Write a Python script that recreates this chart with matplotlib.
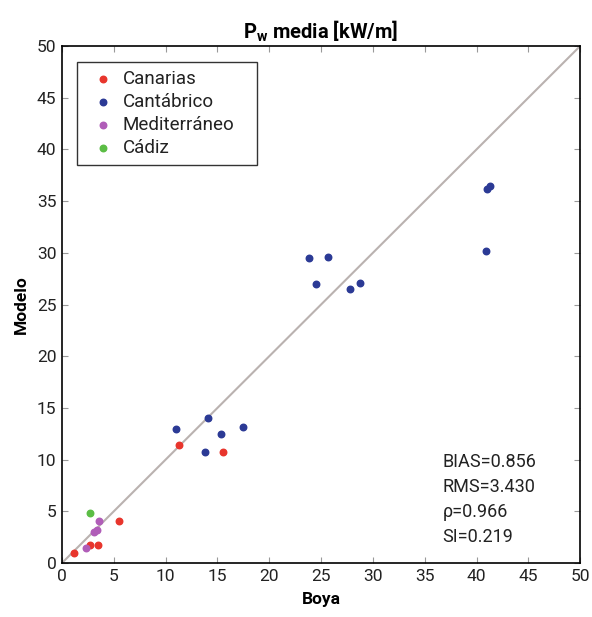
import matplotlib
matplotlib.use("Agg")
import matplotlib.pyplot as plt

plt.rcParams['font.family'] = ['Roboto', 'DejaVu Sans']

# valores (Boya, Modelo)
canarias_x = [1.2, 2.7, 3.5, 5.5, 11.3, 15.5]
canarias_y = [0.95, 1.7, 1.7, 4.1, 11.4, 10.7]

cantabrico_x = [11.0, 14.1, 15.3, 17.5, 13.8, 23.8, 25.7, 24.5, 27.8, 28.8, 40.9, 41.0, 41.3]
cantabrico_y = [13.0, 14.0, 12.5, 13.2, 10.7, 29.5, 29.6, 27.0, 26.5, 27.1, 30.2, 36.2, 36.5]

mediterraneo_x = [2.3, 3.1, 3.4, 3.6]
mediterraneo_y = [1.5, 3.0, 3.2, 4.1]

cadiz_x = [2.7]
cadiz_y = [4.8]

stats = ["BIAS=0.856", "RMS=3.430", "\u03c1=0.966", "SI=0.219"]
ticks = [0, 5, 10, 15, 20, 25, 30, 35, 40, 45, 50]

fig = plt.figure(figsize=(5.92, 6.17), dpi=100)
ax = fig.add_axes([0.1047, 0.0875, 0.8753, 0.8379])

ax.plot([0, 50], [0, 50], color='#bab2b0', lw=1.5, zorder=1)

ax.scatter(canarias_x, canarias_y, s=22, color='#e8352c', label='Canarias', zorder=3)
ax.scatter(cantabrico_x, cantabrico_y, s=22, color='#2b3a95', label='Cantábrico', zorder=3)
ax.scatter(mediterraneo_x, mediterraneo_y, s=22, color='#b05db8', label='Mediterráneo', zorder=3)
ax.scatter(cadiz_x, cadiz_y, s=22, color='#5bbd45', label='Cádiz', zorder=3)

ax.set_xlim(0, 50)
ax.set_ylim(0, 50)
ax.set_xticks(ticks)
ax.set_yticks(ticks)
ax.tick_params(direction='in', top=True, right=True, labelsize=12.5, length=4,
               color='#999999', labelcolor='#222222', pad=4)
for s in ax.spines.values():
    s.set_linewidth(1.2)

ax.set_xlabel('Boya', fontsize=12.5, fontweight='bold', labelpad=6)
ax.set_ylabel('Modelo', fontsize=12.5, fontweight='bold', labelpad=6)
ax.set_title('P$_\\mathregular{w}$ media [kW/m]', fontsize=14.5, fontweight='bold', pad=5)

leg = ax.legend(loc='upper left', fontsize=13.5, frameon=True, fancybox=False,
                edgecolor='black', handletextpad=0.05, borderpad=0.4,
                labelspacing=0.28, borderaxespad=0, mode='expand',
                bbox_to_anchor=(0.029, 0.969 - 0.2, 0.3475, 0.2))
leg.get_frame().set_linewidth(1.0)
for t in leg.get_texts():
    t.set_color('#222222')

ax.text(36.7, 10.6, "\n".join(stats), fontsize=13, va='top', ha='left',
        linespacing=1.5, color='#222222')

fig.savefig('out.png', dpi=100)
